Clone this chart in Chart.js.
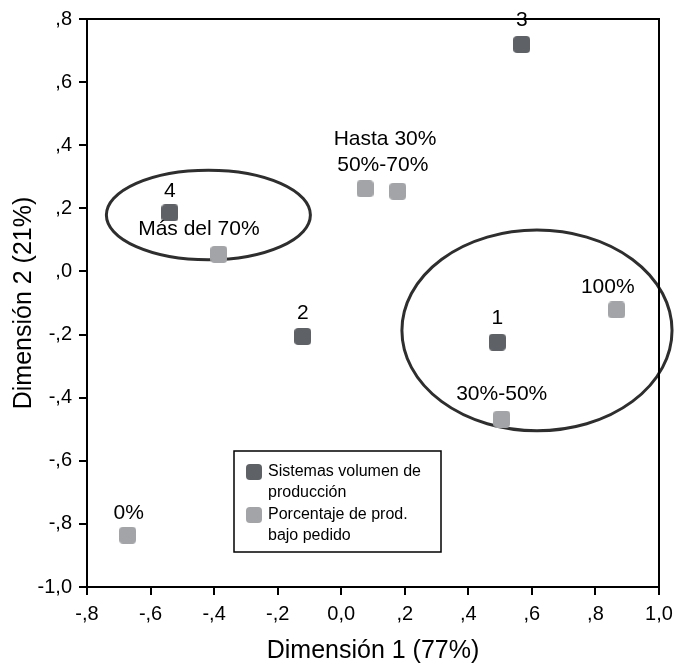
<!DOCTYPE html>
<html>
<head>
<meta charset="utf-8">
<script src="https://cdn.jsdelivr.net/npm/chart.js@4.4.1/dist/chart.umd.min.js"></script>
<style>
  html, body { margin: 0; padding: 0; background: #fff; }
  #wrap { width: 691px; height: 666px; }
</style>
</head>
<body>
<div id="wrap"><canvas id="c" width="691" height="666"></canvas></div>
<script>
// ---- Data ----
const sistemasLabels = ['1', '2', '3', '4'];
const sistemasX = [0.491, -0.121, 0.568, -0.539];
const sistemasY = [-0.224, -0.206, 0.719, 0.186];

const porcentajeLabels = ['0%', 'Hasta 30%', '30%-50%', '50%-70%', 'Más del 70%', '100%'];
const porcentajeX = [-0.672, 0.075, 0.505, 0.178, -0.385, 0.867];
const porcentajeY = [-0.836, 0.262, -0.468, 0.254, 0.054, -0.122];

const xTickLabels = ['-,8', '-,6', '-,4', '-,2', '0,0', ',2', ',4', ',6', ',8', '1,0'];
const yTickLabels = ['-1,0', '-,8', '-,6', '-,4', '-,2', ',0', ',2', ',4', ',6', ',8'];

// group ellipses (data units)
const ellipseCx = [-0.418, 0.616];
const ellipseCy = [0.179, -0.187];
const ellipseRx = [0.321, 0.425];
const ellipseRy = [0.142, 0.318];

const seriesNames = [['Sistemas volumen de', 'producción'], ['Porcentaje de prod.', 'bajo pedido']];

// ---- Styling ----
const DARK = '#5e6165';
const LIGHT = '#a2a4a7';
const FONT = "'Liberation Sans', Arial, Helvetica, sans-serif";

function roundedSquare(color, size, r) {
  const c = document.createElement('canvas');
  c.width = size; c.height = size;
  const g = c.getContext('2d');
  g.fillStyle = color;
  g.beginPath();
  g.roundRect(0, 0, size, size, r);
  g.fill();
  return c;
}
const darkMarker = roundedSquare(DARK, 17, 4);
const lightMarker = roundedSquare(LIGHT, 17, 4);

// label offsets in pixels, per dataset / point (placement only)
const labelOffsets = [
  [[0, -24], [0, -23], [0, -24], [0, -22]],
  [[1, -22], [20, -50], [0, -25], [-15, -26], [-20, -25], [-9, -23]]
];

const pointLabelsPlugin = {
  id: 'pointLabels',
  afterDatasetsDraw(chart) {
    const ctx = chart.ctx;
    ctx.save();
    ctx.font = '21px ' + FONT;
    ctx.fillStyle = '#000';
    ctx.textAlign = 'center';
    ctx.textBaseline = 'middle';
    chart.data.datasets.forEach((ds, di) => {
      const meta = chart.getDatasetMeta(di);
      meta.data.forEach((el, i) => {
        const off = labelOffsets[di][i];
        ctx.fillText(ds.pointLabels[i], el.x + off[0], el.y + off[1]);
      });
    });
    ctx.restore();
  }
};

const ellipsePlugin = {
  id: 'groupEllipses',
  beforeDatasetsDraw(chart) {
    const ctx = chart.ctx;
    const xs = chart.scales.x, ys = chart.scales.y;
    ctx.save();
    ctx.strokeStyle = '#2e2e2e';
    ctx.lineWidth = 3;
    for (let i = 0; i < ellipseCx.length; i++) {
      const cx = xs.getPixelForValue(ellipseCx[i]);
      const cy = ys.getPixelForValue(ellipseCy[i]);
      const rx = Math.abs(xs.getPixelForValue(ellipseCx[i] + ellipseRx[i]) - cx);
      const ry = Math.abs(ys.getPixelForValue(ellipseCy[i] + ellipseRy[i]) - cy);
      ctx.beginPath();
      ctx.ellipse(cx, cy, rx, ry, 0, 0, Math.PI * 2);
      ctx.stroke();
    }
    ctx.restore();
  }
};

const frameAndLegendPlugin = {
  id: 'frameAndLegend',
  afterDraw(chart) {
    const ctx = chart.ctx;
    const a = chart.chartArea;
    ctx.save();
    // top and right frame
    ctx.strokeStyle = '#000';
    ctx.lineWidth = 2;
    ctx.beginPath();
    ctx.moveTo(a.left, a.top);
    ctx.lineTo(a.right, a.top);
    ctx.lineTo(a.right, a.bottom);
    ctx.stroke();

    // legend box
    const bx = 234, by = 451, bw = 207, bh = 101;
    ctx.fillStyle = '#fff';
    ctx.fillRect(bx, by, bw, bh);
    ctx.lineWidth = 1.5;
    ctx.strokeStyle = '#000';
    ctx.strokeRect(bx, by, bw, bh);
    ctx.font = '16px ' + FONT;
    ctx.fillStyle = '#000';
    ctx.textAlign = 'left';
    ctx.textBaseline = 'middle';
    const markers = [darkMarker, lightMarker];
    const rows = [[472, 493], [515, 536]];
    for (let s = 0; s < 2; s++) {
      const m = markers[s];
      ctx.drawImage(m, 254 - 8, rows[s][0] - 8, 16, 16);
      ctx.fillStyle = '#000';
      ctx.fillText(seriesNames[s][0], 268, rows[s][0]);
      ctx.fillText(seriesNames[s][1], 268, rows[s][1]);
    }
    ctx.restore();
  }
};

function toPoints(xs, ys) { return xs.map((x, i) => ({ x: x, y: ys[i] })); }

new Chart(document.getElementById('c'), {
  type: 'scatter',
  data: {
    datasets: [
      {
        label: seriesNames[0].join(' '),
        data: toPoints(sistemasX, sistemasY),
        pointLabels: sistemasLabels,
        pointStyle: darkMarker,
        backgroundColor: DARK,
        borderColor: DARK
      },
      {
        label: seriesNames[1].join(' '),
        data: toPoints(porcentajeX, porcentajeY),
        pointLabels: porcentajeLabels,
        pointStyle: lightMarker,
        backgroundColor: LIGHT,
        borderColor: LIGHT
      }
    ]
  },
  options: {
    responsive: false,
    animation: false,
    layout: { padding: { top: 16, right: 32, left: 0, bottom: 0 } },
    plugins: {
      legend: { display: false },
      tooltip: { enabled: false }
    },
    scales: {
      x: {
        type: 'linear',
        min: -0.8, max: 1.0,
        afterFit(scale) { scale.height = 79; },
        ticks: {
          stepSize: 0.2,
          color: '#000',
          padding: 7,
          font: { family: FONT, size: 20 },
          maxRotation: 0,
          callback: (v, i) => xTickLabels[i]
        },
        grid: { drawOnChartArea: false, drawTicks: true, tickLength: 8, color: '#000', lineWidth: 2 },
        border: { display: true, color: '#000', width: 2 },
        title: {
          display: true,
          text: 'Dimensión 1 (77%)',
          color: '#000',
          font: { family: FONT, size: 25 },
          padding: { top: 0, bottom: 0 }
        }
      },
      y: {
        type: 'linear',
        min: -1.0, max: 0.8,
        afterFit(scale) { scale.width = 87; },
        ticks: {
          stepSize: 0.2,
          color: '#000',
          padding: 7,
          font: { family: FONT, size: 20 },
          callback: (v, i) => yTickLabels[i]
        },
        grid: { drawOnChartArea: false, drawTicks: true, tickLength: 8, color: '#000', lineWidth: 2 },
        border: { display: true, color: '#000', width: 2 },
        title: {
          display: true,
          text: 'Dimensión 2 (21%)',
          color: '#000',
          font: { family: FONT, size: 25 },
          padding: { top: 9, bottom: 0 }
        }
      }
    }
  },
  plugins: [ellipsePlugin, pointLabelsPlugin, frameAndLegendPlugin]
});
</script>
</body>
</html>
